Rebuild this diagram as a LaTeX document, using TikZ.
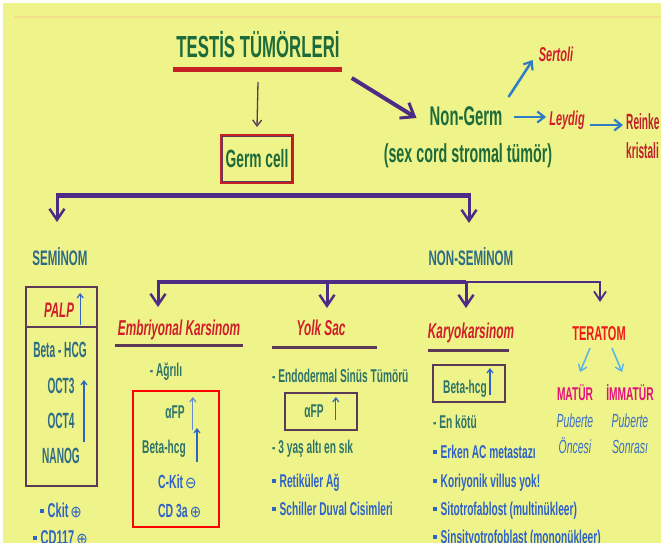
\documentclass[tikz,border=0pt]{standalone}
\usepackage{fontspec}
\setmainfont{Liberation Sans}
\newfontfamily\cond[FakeStretch=0.55]{Liberation Sans}
\newfontfamily\condx[FakeStretch=0.46]{Liberation Sans}
\newfontfamily\djv[FakeStretch=0.85]{DejaVu Sans}
\usetikzlibrary{arrows.meta}
\definecolor{bgy}{RGB}{238,243,138}
\definecolor{dgreen}{RGB}{29,107,59}
\definecolor{teal}{RGB}{46,108,134}
\definecolor{tgreen}{RGB}{47,116,104}
\definecolor{bblue}{RGB}{47,99,198}
\definecolor{hred}{RGB}{208,31,42}
\definecolor{rkred}{RGB}{192,32,42}
\definecolor{tred}{RGB}{242,26,26}
\definecolor{magn}{RGB}{227,18,124}
\definecolor{purp}{RGB}{78,44,134}
\definecolor{boxc}{RGB}{91,58,88}
\definecolor{ured}{RGB}{196,32,38}
\definecolor{arrblue}{RGB}{47,124,198}
\definecolor{lblue}{RGB}{85,181,234}
\definecolor{pblue}{RGB}{60,111,196}
\definecolor{artf}{RGB}{245,222,140}
\newcommand\bul{\rule[4.5pt]{3.5pt}{3.5pt}\hspace{4pt}}
\newcommand\plusc{\hspace{2pt}{\djv\mdseries\fontsize{16}{16}\selectfont ⊕}}
\newcommand\minusc{\hspace{2pt}{\djv\mdseries\fontsize{16}{16}\selectfont ⊖}}
\tikzset{
  lbl/.style={inner sep=0pt, anchor=base},
  lblw/.style={inner sep=0pt, anchor=base west},
  fbf/.style={font=\cond\bfseries\fontsize{#1}{#1}\selectfont},
  fbx/.style={font=\condx\bfseries\fontsize{#1}{#1}\selectfont},
  fbi/.style={font=\cond\bfseries\itshape\fontsize{#1}{#1}\selectfont},
  fit/.style={font=\cond\itshape\fontsize{#1}{#1}\selectfont},
  parr/.style={draw=purp, line width=3pt, -{Straight Barb[length=11pt,width=15pt,line width=2.5pt]}},
  parrthin/.style={draw=purp, line width=2pt, -{Straight Barb[length=9pt,width=12pt,line width=1.8pt]}},
  tarr/.style={draw=boxc, line width=1.3pt, -{Straight Barb[length=6pt,width=9pt,line width=1.3pt]}},
  barr/.style={draw=arrblue, line width=2.5pt, -{Straight Barb[length=7pt,width=11pt,line width=2.2pt]}},
  uarr/.style={draw=bblue, line width=1.3pt, -{Straight Barb[length=4pt,width=6pt,line width=1.2pt]}},
  larr/.style={draw=lblue, line width=1.5pt, -{Straight Barb[length=6pt,width=9pt,line width=1.4pt]}},
  ubox/.style={draw=boxc, line width=2.5pt, inner sep=0pt},
  uline/.style={draw=boxc, line width=3pt},
}
\begin{document}
\begin{tikzpicture}[x=1pt,y=-1pt]
\useasboundingbox (0,0) rectangle (663,547);
\fill[white] (0,0) rectangle (663,547);
\fill[bgy] (3,3) rectangle (661,543);
\draw[artf, line width=2.5pt] (14,17) -- (661,17);

% top
\node[lbl, fbf=30.5, text=dgreen] (title) at (258,57) {TESTİS TÜMÖRLERİ};
\draw[ured, line width=5pt] ([shift={(-3,12)}]title.base west) -- ([shift={(2,12)}]title.base east);
\node[draw=ured, line width=2pt, minimum width=72pt, minimum height=48pt, inner sep=0pt, fbf=25, text=dgreen] (germ) at (257,159) {Germ cell};
\draw[boxc, line width=0.8pt] ([shift={(2.2,2.2)}]germ.north west) rectangle ([shift={(-2.2,-2.2)}]germ.south east);
\draw[tarr] ([yshift=-25pt]title.base) -- ([yshift=7pt]germ.north);

\node[lbl, fbf=27, text=dgreen] (ng) at (466,125) {Non-Germ};
\node[lbl, fbf=26, text=dgreen] (sc) at (468,162) {(sex cord stromal tümör)};
\draw[draw=purp, line width=4pt, -{Straight Barb[length=12pt,width=18pt,line width=3pt]}] ([shift={(12,21)}]title.base east) -- ([shift={(-13,-7)}]ng.base west);
\node[lbl, fbi=20, text=hred] (ser) at (556,61) {Sertoli};
\node[lbl, fbi=20, text=hred] (ley) at (567,125) {Leydig};
\node[lblw, fbx=22, text=rkred] (rk) at (626,129) {Reinke};
\node[lblw, fbx=22, text=rkred] (kr) at (626,158) {kristali};
\draw[barr] ([shift={(6,-28)}]ng.base east) -- ([shift={(-6,-1)}]ser.base west);
\draw[barr] ([shift={(11,-8)}]ng.base east) -- ([shift={(-3,-8)}]ley.base west);
\draw[barr] ([shift={(5,0)}]ley.base east) -- ([shift={(-3,-4)}]rk.base west);

% first split
\coordinate (barL) at (57,195);
\coordinate (barR) at (469,195);
\draw[purp, line width=5pt] ([xshift=-1.5pt]barL) -- ([xshift=1.5pt]barR);
\draw[parr] (barL) -- ++(0,27);
\draw[parr] (barR) -- ++(0,28);
\node[lbl, fbf=21, text=teal] (sem) at (60,265) {SEMİNOM};
\node[lbl, fbf=21, text=teal] (nsem) at (471,265) {NON-SEMİNOM};

% second split
\coordinate (b2L) at (158,282);
\coordinate (b2Y) at (327,282);
\coordinate (b2M) at (466,282);
\coordinate (b2R) at (600,282);
\draw[purp, line width=4.5pt] ([xshift=-1.5pt]b2L) -- (b2M);
\draw[purp, line width=2.5pt] (b2M) -- ([xshift=1pt]b2R);
\draw[parr] (b2L) -- ++(0,25);
\draw[parr] (b2Y) -- ++(0,26);
\draw[parr] (b2M) -- ++(0,26);
\draw[parrthin] (b2R) -- ++(0,20);

% Seminom box
\node[ubox, minimum width=71pt, minimum height=199pt] (sbox) at (61.5,386.5) {};
\draw[boxc, line width=1.5pt] ([yshift=-41pt]sbox.north west) -- ([yshift=-41pt]sbox.north east);
\node[lbl, fbi=21, text=hred] (palp) at (59,317) {PALP};
\draw[uarr] ([shift={(6,8)}]palp.base east) -- ([shift={(6,-24)}]palp.base east);
\node[lbl, fbx=22, text=teal] (bh) at (60,357) {Beta - HCG};
\node[lbl, fbx=22, text=teal] (o3) at (61,393) {OCT3};
\node[lbl, fbx=22, text=teal] (o4) at (61,428) {OCT4};
\node[lbl, fbx=22, text=teal] (nan) at (61,463) {NANOG};
\draw[uarr] ([shift={(4,-21)}]nan.base east) -- ([shift={(4,-83)}]nan.base east);
\node[lblw, fbf=20, text=bblue] (ck) at (40,517) {\bul Ckit\plusc};
\node[lblw, fbf=20, text=bblue] (cd) at (33,544) {\bul CD117\plusc};

% Embriyonal
\node[lbl, fbi=21.5, text=hred] (emb) at (179,335) {Embriyonal Karsinom};
\draw[uline] ([shift={(-3,10)}]emb.base west) -- ([shift={(3,10)}]emb.base east);
\node[lbl, fbf=18.5, text=tgreen] (agr) at (166,376) {- Ağrılı};
\node[draw=red, line width=2pt, minimum width=86pt, minimum height=136pt, inner sep=0pt] (rbox) at (176,459) {};
\node[lbl, fbf=18.5, text=tgreen] (afp1) at (175,418) {αFP};
\draw[uarr, draw=pblue!80] ([shift={(8,12)}]afp1.base east) -- ([shift={(8,-21)}]afp1.base east);
\node[lbl, fbf=18.5, text=tgreen] (bhc1) at (164,453) {Beta-hcg};
\draw[uarr] ([shift={(11,9)}]bhc1.base east) -- ([shift={(11,-25)}]bhc1.base east);
\node[lblw, fbf=19, text=bblue] (ckm) at (158,488) {C-Kit\minusc};
\node[lblw, fbf=19, text=bblue] (cd3) at (158,517) {CD 3a\plusc};

% Yolk Sac
\node[lbl, fbi=21.5, text=hred] (yolk) at (321,335) {Yolk Sac};
\node[inner sep=0pt] (yolkline) at (324.5,347) {};
\draw[uline] ([xshift=-52.5pt]yolkline.center) -- ([xshift=52.5pt]yolkline.center);
\node[lblw, fbf=18.5, text=tgreen] (endo) at (272,382) {- Endodermal Sinüs Tümörü};
\node[ubox, minimum width=72pt, minimum height=37pt] (ybox) at (321,411.5) {};
\node[lbl, fbf=18.5, text=tgreen] (afp2) at (314,417) {αFP};
\draw[uarr] ([shift={(12,3)}]afp2.base east) -- ([shift={(12,-20)}]afp2.base east);
\node[lblw, fbf=18.5, text=tgreen] (yas) at (272,453) {- 3 yaş altı en sık};
\node[lblw, fbf=18.5, text=bblue] (ret) at (272,487) {\bul Retiküler Ağ};
\node[lblw, fbf=18.5, text=bblue] (sch) at (272,515) {\bul Schiller Duval Cisimleri};

% Karyokarsinom
\node[lbl, fbi=21.5, text=hred] (kar) at (471,338) {Karyokarsinom};
\draw[uline] ([shift={(0,12)}]kar.base west) -- ([shift={(-5,12)}]kar.base east);
\node[ubox, minimum width=72pt, minimum height=37pt] (kbox) at (469,383.5) {};
\node[lbl, fbf=18.5, text=tgreen] (bhc2) at (465,393) {Beta-hcg};
\draw[uarr] ([shift={(3,2)}]bhc2.base east) -- ([shift={(3,-25)}]bhc2.base east);
\node[lblw, fbf=18.5, text=tgreen] (enk) at (433,428) {- En kötü};
\node[lblw, fbf=18.5, text=bblue] (erk) at (433,458) {\bul Erken AC metastazı};
\node[lblw, fbf=18.5, text=bblue] (kor) at (433,487) {\bul Koriyonik villus yok!};
\node[lblw, fbf=18.5, text=bblue] (sit) at (433,515) {\bul Sitotrofablost (multinükleer)};
\node[lblw, fbf=18.5, text=bblue] (sin) at (433,543) {\bul Sinsityotrofoblast (mononükleer)};

% Teratom
\node[lbl, fbf=20, text=tred] (ter) at (599,340) {TERATOM};
\node[lbl, fbf=18.5, text=magn] (mat) at (575,400) {MATÜR};
\node[lbl, fbf=18.5, text=magn] (imm) at (630,400) {İMMATÜR};
\draw[larr] ([shift={(-9,8)}]ter.base) -- ([shift={(5,-28)}]mat.base);
\draw[larr] ([shift={(13,8)}]ter.base) -- ([shift={(-8,-28)}]imm.base);
\node[lbl, fit=19, text=pblue] (pb1) at (575,427) {Puberte};
\node[lbl, fit=19, text=pblue] (pb2) at (630,427) {Puberte};
\node[lbl, fit=19, text=pblue] (onc) at (575,453) {Öncesi};
\node[lbl, fit=19, text=pblue] (son) at (630,453) {Sonrası};

% white border on top
\fill[white] (0,543) rectangle (663,547);
\fill[white] (661,0) rectangle (663,547);
\end{tikzpicture}
\end{document}
